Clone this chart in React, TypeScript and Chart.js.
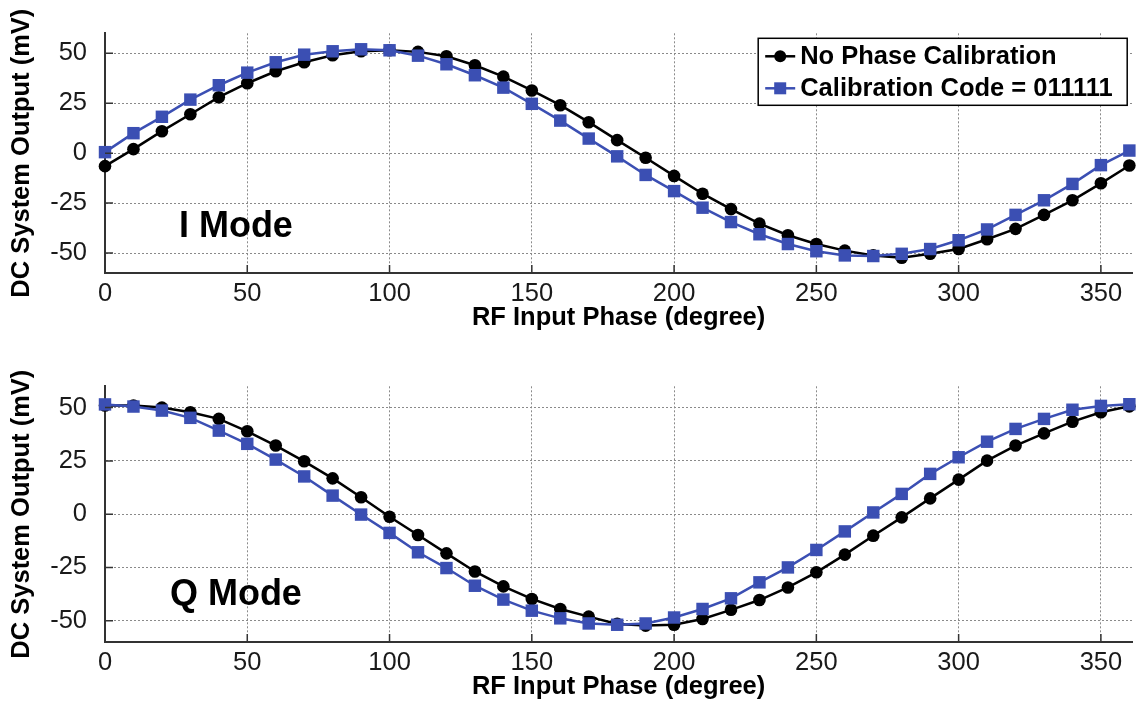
import React, { useEffect, useRef } from "react";
import { Chart, registerables } from "chart.js";

Chart.register(...registerables);

// RF input phase (degree)
const phase = [
  0, 10, 20, 30, 40, 50, 60, 70, 80, 90, 100, 110, 120, 130, 140, 150, 160, 170, 180,
  190, 200, 210, 220, 230, 240, 250, 260, 270, 280, 290, 300, 310, 320, 330, 340, 350, 360,
];

const xTickValues = [0, 50, 100, 150, 200, 250, 300, 350];
const yTickValues = [-50, -25, 0, 25, 50];

const seriesNames = ["No Phase Calibration", "Calibration Code = 011111"];

// I Mode (mV)
const iNoCal = [
  -6.5, 2, 11, 19.5, 28, 35, 41, 45.5, 49, 51, 51.5, 50.7, 48.5, 44, 38.3, 31.4, 24, 15.5, 6.5,
  -2.3, -11.4, -20.3, -28, -35.3, -41.1, -45.5, -48.8, -51.2, -52.4, -50.4, -48, -43.1, -37.9,
  -30.9, -23.6, -15.1, -6.2,
];
const iCal = [
  0.5, 10, 18.2, 26.8, 34, 40.3, 45.5, 49.3, 51, 52, 51.5, 48.8, 44.5, 39, 32.8, 24.7, 16.3, 7.3,
  -1.6, -10.9, -19, -27.3, -34.5, -40.6, -45.5, -49.1, -51.2, -51.5, -50.4, -48, -43.6, -38.2,
  -30.9, -23.6, -15.4, -6, 1.3,
];

// Q Mode (mV)
const qNoCal = [
  51, 51, 50, 47.8, 44.7, 38.9, 32.2, 24.8, 16.8, 7.9, -1.2, -9.8, -18.4, -26.9, -33.9, -39.8,
  -44.5, -48.1, -51.5, -52.3, -51.9, -49.2, -44.9, -40.3, -34.4, -27.3, -19, -10.1, -1.5, 7.4,
  16.2, 25.1, 32.2, 37.9, 43.4, 47.8, 50.6,
];
const qCal = [
  51.5, 50.5, 48.6, 45.2, 39.2, 33, 25.6, 17.7, 8.7, -0.2, -8.8, -17.9, -25.3, -33.6, -40.1,
  -45.3, -48.9, -51.3, -51.9, -51.3, -48.5, -44.5, -39.5, -32, -25, -16.8, -8.1, 0.8, 9.5, 18.9,
  26.7, 34, 40, 44.7, 49, 50.8, 51.6,
];

const FONT = '"Liberation Sans", Arial, Helvetica, sans-serif';
const BLACK = "#000000";
const BLUE = "#3b4fb3";
const W = 1141;
const H = 353;

function toPoints(vals: number[]) {
  return phase.map((p, i) => ({ x: p, y: vals[i] }));
}

function buildConfig(
  noCal: number[],
  cal: number[],
  modeText: string,
  modeX: number,
  modeY: number,
  padTop: number,
  xAxisHeight: number,
  titlePadBottom: number,
  showLegend: boolean
): any {
  const extras = {
    id: "extras",
    afterDraw(chart: any) {
      const { ctx, chartArea, scales } = chart;
      const xs = scales.x;
      const ys = scales.y;
      ctx.save();
      // inward tick marks
      ctx.strokeStyle = "#333";
      ctx.lineWidth = 1.5;
      ctx.setLineDash([]);
      ctx.beginPath();
      xs.ticks.forEach((t: any) => {
        const px = xs.getPixelForValue(t.value);
        ctx.moveTo(px, chartArea.bottom);
        ctx.lineTo(px, chartArea.bottom - 8);
      });
      ys.ticks.forEach((t: any) => {
        const py = ys.getPixelForValue(t.value);
        ctx.moveTo(chartArea.left, py);
        ctx.lineTo(chartArea.left + 8, py);
      });
      ctx.stroke();

      // mode label
      ctx.fillStyle = "#000";
      ctx.font = `bold 36px ${FONT}`;
      ctx.textAlign = "center";
      ctx.textBaseline = "middle";
      ctx.fillText(modeText, xs.getPixelForValue(modeX), ys.getPixelForValue(modeY));

      if (showLegend) {
        const bw = 369;
        const bh = 67;
        const bx = chartArea.right - 5 - bw;
        const by = chartArea.top + 5;
        ctx.fillStyle = "#fff";
        ctx.fillRect(bx, by, bw, bh);
        ctx.strokeStyle = "#000";
        ctx.lineWidth = 1.5;
        ctx.strokeRect(bx, by, bw, bh);
        const ds = chart.data.datasets;
        const orderIdx = [0, 1];
        orderIdx.forEach((di, row) => {
          const d = ds[di];
          const ry = by + 18 + row * 32;
          ctx.strokeStyle = d.borderColor;
          ctx.lineWidth = 2.5;
          ctx.beginPath();
          ctx.moveTo(bx + 7, ry);
          ctx.lineTo(bx + 37, ry);
          ctx.stroke();
          ctx.fillStyle = d.borderColor;
          if (d.pointStyle === "rect") {
            ctx.fillRect(bx + 22 - 6, ry - 6, 12, 12);
          } else {
            ctx.beginPath();
            ctx.arc(bx + 22, ry, 6, 0, Math.PI * 2);
            ctx.fill();
          }
          ctx.fillStyle = "#000";
          ctx.font = `bold 25.5px ${FONT}`;
          ctx.textAlign = "left";
          ctx.textBaseline = "middle";
          ctx.fillText(d.label, bx + 42, ry + 1);
        });
      }
      ctx.restore();
    },
  };

  return {
    type: "line",
    data: {
      datasets: [
        {
          label: seriesNames[0],
          data: toPoints(noCal),
          borderColor: BLACK,
          backgroundColor: BLACK,
          pointBackgroundColor: BLACK,
          pointBorderColor: BLACK,
          pointStyle: "circle",
          pointRadius: 6.3,
          pointBorderWidth: 0,
          borderWidth: 2.5,
          tension: 0,
          clip: false,
          order: 2,
        },
        {
          label: seriesNames[1],
          data: toPoints(cal),
          borderColor: BLUE,
          backgroundColor: BLUE,
          pointBackgroundColor: BLUE,
          pointBorderColor: BLUE,
          pointStyle: "rect",
          pointRadius: 8.8,
          pointBorderWidth: 0,
          borderWidth: 2.5,
          tension: 0,
          clip: false,
          order: 1,
        },
      ],
    },
    options: {
      responsive: false,
      animation: false,
      devicePixelRatio: 1,
      layout: { padding: { left: 0, right: 6, top: padTop, bottom: 0 } },
      plugins: {
        legend: { display: false },
        tooltip: { enabled: false },
        title: { display: false },
      },
      scales: {
        x: {
          type: "linear",
          min: 0,
          max: 361,
          afterBuildTicks: (axis: any) => {
            axis.ticks = xTickValues.map((v) => ({ value: v }));
          },
          afterFit: (axis: any) => {
            axis.height = xAxisHeight;
          },
          ticks: {
            padding: 6,
            color: "#1a1a1a",
            font: { family: FONT, size: 25.5 },
            maxRotation: 0,
            autoSkip: false,
          },
          grid: {
            display: true,
            drawTicks: false,
            color: "#8a8a8a",
            lineWidth: 1,
          },
          border: { display: true, color: "#333", width: 2, dash: [2, 2] },
          title: {
            display: true,
            text: "RF Input Phase (degree)",
            color: "#000",
            font: { family: FONT, size: 25.5, weight: "bold" },
            padding: { top: 0, bottom: titlePadBottom },
          },
        },
        y: {
          type: "linear",
          min: -60,
          max: 60,
          afterBuildTicks: (axis: any) => {
            axis.ticks = yTickValues.map((v) => ({ value: v }));
          },
          afterFit: (axis: any) => {
            axis.width = 105;
          },
          ticks: {
            padding: 18,
            color: "#1a1a1a",
            font: { family: FONT, size: 25.5 },
          },
          grid: {
            display: true,
            drawTicks: false,
            color: "#8a8a8a",
            lineWidth: 1,
          },
          border: { display: true, color: "#333", width: 2, dash: [2, 2] },
          title: {
            display: true,
            text: "DC System Output (mV)",
            color: "#000",
            font: { family: FONT, size: 25.5, weight: "bold" },
            padding: { top: 7, bottom: 0 },
          },
        },
      },
    },
    plugins: [extras],
  };
}

export default function App() {
  const ref1 = useRef<HTMLCanvasElement>(null);
  const ref2 = useRef<HTMLCanvasElement>(null);

  useEffect(() => {
    const c1 = new Chart(ref1.current!, buildConfig(iNoCal, iCal, "I Mode", 46, -37, 27, 80, 20, true));
    const c2 = new Chart(ref2.current!, buildConfig(qNoCal, qCal, "Q Mode", 46, -38, 32, 64, 4, false));
    return () => {
      c1.destroy();
      c2.destroy();
    };
  }, []);

  return (
    <div style={{ position: "absolute", left: 0, top: 0, width: W, height: 2 * H, background: "#fff" }}>
      <div style={{ position: "absolute", left: 0, top: 0, width: W, height: H }}>
        <canvas ref={ref1} width={W} height={H} />
      </div>
      <div style={{ position: "absolute", left: 0, top: H, width: W, height: H }}>
        <canvas ref={ref2} width={W} height={H} />
      </div>
    </div>
  );
}
